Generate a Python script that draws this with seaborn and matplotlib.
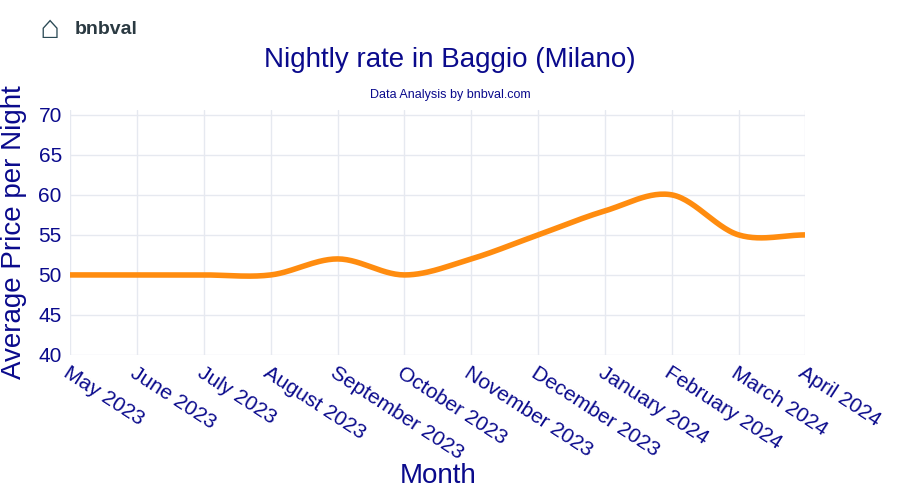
import matplotlib
matplotlib.use("Agg")
import matplotlib.pyplot as plt
import numpy as np
import pandas as pd
import seaborn as sns

months = ["May 2023", "June 2023", "July 2023", "August 2023", "September 2023",
          "October 2023", "November 2023", "December 2023", "January 2024",
          "February 2024", "March 2024", "April 2024"]
prices = [50, 50, 50, 50, 52, 50, 52, 55, 58, 60, 55, 55]
y_ticks = [40, 45, 50, 55, 60, 65, 70]

navy = "#0a0a8c"
sns.set_style("white", rc={"font.family": "Liberation Sans"})

fig = plt.figure(figsize=(9, 5), dpi=100)
ax = fig.add_axes([0.078, 0.29, 0.817, 0.49])

df = pd.DataFrame({"x": np.arange(len(months)), "price": prices})

# smooth curve through the points (Catmull-Rom), drawing only
def smooth(x, y, n=30):
    x = np.asarray(x, float); y = np.asarray(y, float)
    px = np.concatenate([[2 * x[0] - x[1]], x, [2 * x[-1] - x[-2]]])
    py = np.concatenate([[y[0]], y, [y[-1]]])
    xs, ys = [], []
    for i in range(1, len(px) - 2):
        t = np.linspace(0, 1, n)
        for p, out in ((px, xs), (py, ys)):
            p0, p1, p2, p3 = p[i - 1], p[i], p[i + 1], p[i + 2]
            out.extend(0.5 * (2 * p1 + (-p0 + p2) * t + (2 * p0 - 5 * p1 + 4 * p2 - p3) * t ** 2
                              + (-p0 + 3 * p1 - 3 * p2 + p3) * t ** 3))
    return np.array(xs), np.array(ys)

sx, sy = smooth(df["x"], df["price"])
sns.lineplot(x=sx, y=sy, ax=ax, color="#ff8c0f", linewidth=4, sort=False)

ax.set_xlim(0, len(months) - 1)
ax.set_ylim(40, 70.6)
ax.set_yticks(y_ticks)
ax.set_xticks(df["x"])
ax.set_xticklabels(months, rotation=-33, ha="left", va="top", rotation_mode="anchor")
ax.tick_params(colors=navy, labelsize=15, length=0, pad=6)
ax.grid(True, color="#e6e9f0", linewidth=1)
for s in ax.spines.values():
    s.set_visible(False)
ax.set_xlabel("Month", color=navy, fontsize=20, labelpad=0)
ax.set_ylabel("Average Price per Night", color=navy, fontsize=20, labelpad=8)

fig.text(0.5, 0.88, "Nightly rate in Baggio (Milano)", ha="center", va="center", color=navy, fontsize=20)
fig.text(0.5, 0.81, "Data Analysis by bnbval.com", ha="center", va="center", color=navy, fontsize=9)
fig.text(0.083, 0.94, "bnbval", ha="left", va="center", color="#2b3a42", fontsize=14, fontweight="bold")
fig.text(0.055, 0.94, "\u2302", ha="center", va="center", color="#2b4a55", fontsize=24)

fig.savefig("out.png", dpi=100)
